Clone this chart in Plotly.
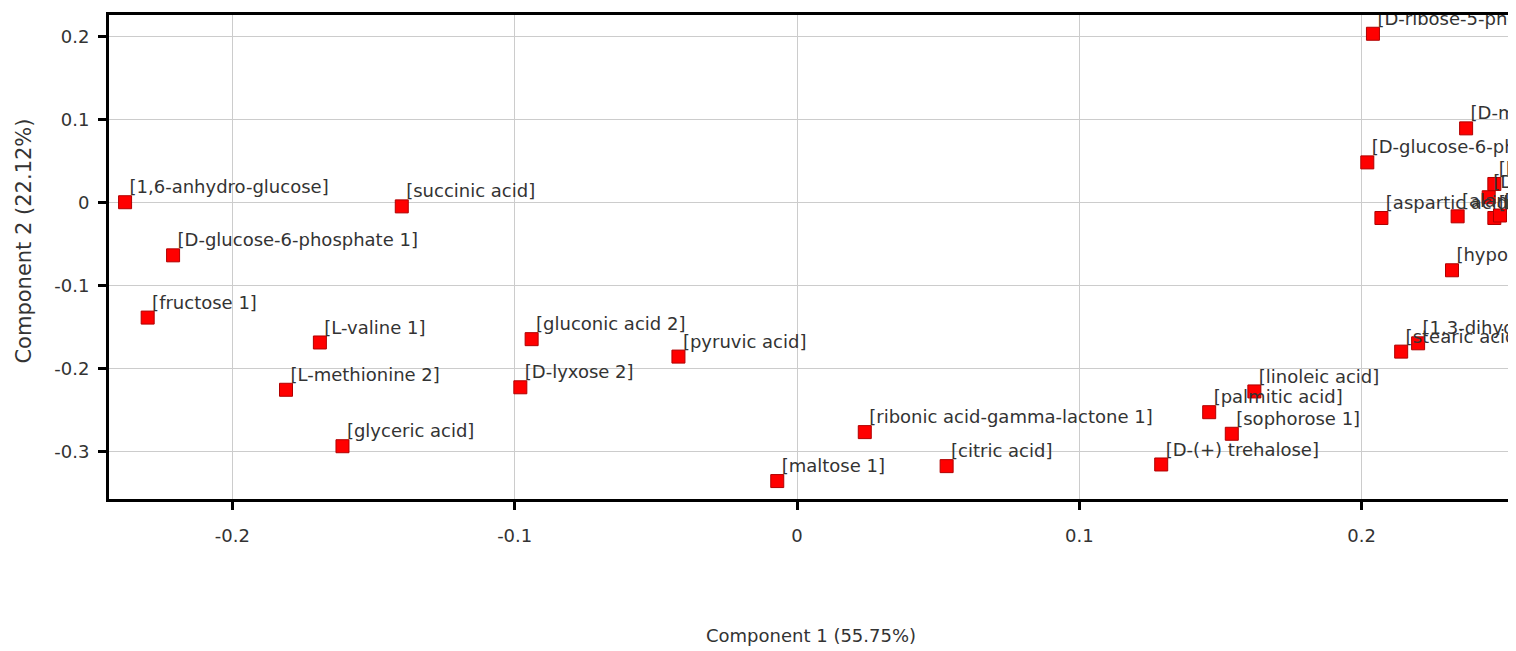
import plotly.graph_objects as go

labels = [
    "[1,6-anhydro-glucose]", "[D-glucose-6-phosphate 1]", "[fructose 1]", "[L-valine 1]",
    "[L-methionine 2]", "[glyceric acid]", "[succinic acid]", "[gluconic acid 2]",
    "[D-lyxose 2]", "[pyruvic acid]", "[maltose 1]", "[ribonic acid-gamma-lactone 1]",
    "[citric acid]", "[D-(+) trehalose]", "[palmitic acid]", "[sophorose 1]",
    "[linoleic acid]", "[D-ribose-5-phosphate]", "[D-glucose-6-phosphate 2]",
    "[D-mannose-6-phosphate]", "[aspartic acid]", "[alanine]", "[hydroxyproline]",
    "[D-fructose]", "[malic acid]", "[nicotinic acid]", "[hypoxanthine]",
    "[1,3-dihydroxyacetone]", "[stearic acid]",
]
comp1 = [
    -0.238, -0.221, -0.230, -0.169,
    -0.181, -0.161, -0.140, -0.094,
    -0.098, -0.042, -0.007, 0.024,
    0.053, 0.129, 0.146, 0.154,
    0.162, 0.204, 0.202,
    0.237, 0.207, 0.234, 0.247,
    0.245, 0.247, 0.249, 0.232,
    0.220, 0.214,
]
comp2 = [
    0.000, -0.064, -0.139, -0.169,
    -0.226, -0.294, -0.005, -0.165,
    -0.223, -0.186, -0.336, -0.277,
    -0.318, -0.316, -0.253, -0.279,
    -0.228, 0.203, 0.048,
    0.089, -0.019, -0.017, 0.022,
    0.006, -0.019, -0.016, -0.082,
    -0.170, -0.180,
]

x_ticks = [-0.2, -0.1, 0, 0.1, 0.2]
x_ticktext = ["-0.2", "-0.1", "0", "0.1", "0.2"]
y_ticks = [0.2, 0.1, 0, -0.1, -0.2, -0.3]
y_ticktext = ["0.2", "0.1", "0", "-0.1", "-0.2", "-0.3"]

FONT = "DejaVu Sans"
TEXT_COLOR = "#333333"

fig = go.Figure()
# markers
fig.add_trace(go.Scatter(
    x=comp1, y=comp2, mode="markers",
    marker=dict(symbol="square", size=13, color="#ff0000",
                line=dict(color="#b00000", width=1)),
    cliponaxis=True, hoverinfo="skip", showlegend=False,
))
# labels drawn on top, with a tiny invisible marker to set the text offset
fig.add_trace(go.Scatter(
    x=comp1, y=comp2, mode="markers+text", text=labels,
    textposition="top right",
    marker=dict(symbol="square", size=5.5, opacity=0),
    textfont=dict(family=FONT, size=18, color=TEXT_COLOR),
    cliponaxis=True, hoverinfo="skip", showlegend=False,
))

axis_common = dict(
    showline=True, linecolor="black", linewidth=3, mirror=True,
    showgrid=True, gridcolor="#cccccc", gridwidth=1,
    zeroline=False, ticks="outside", ticklen=8, tickwidth=3, tickcolor="black",
    tickfont=dict(family=FONT, size=18, color=TEXT_COLOR),
)

fig.update_xaxes(range=[-0.2437, 0.2529], tickvals=x_ticks, ticktext=x_ticktext,
                 ticklabelstandoff=10, **axis_common)
fig.update_yaxes(range=[-0.3576, 0.2256], tickvals=y_ticks, ticktext=y_ticktext,
                 ticklabelstandoff=5, **axis_common)

fig.add_annotation(text="Component 1 (55.75%)", xref="paper", yref="paper",
                   x=0.501, y=-0.2819, xanchor="center", yanchor="middle",
                   showarrow=False, font=dict(family=FONT, size=18, color=TEXT_COLOR))
fig.add_annotation(text="Component 2 (22.12%)", xref="paper", yref="paper",
                   x=-0.0613, y=0.532, xanchor="center", yanchor="middle",
                   textangle=-90, showarrow=False,
                   font=dict(family=FONT, size=21, color=TEXT_COLOR))

fig.update_layout(
    width=1516, height=651,
    margin=dict(l=100.5, r=12.5, t=3.5, b=159.5),
    paper_bgcolor="white", plot_bgcolor="white",
)

fig.write_html("out.html")
